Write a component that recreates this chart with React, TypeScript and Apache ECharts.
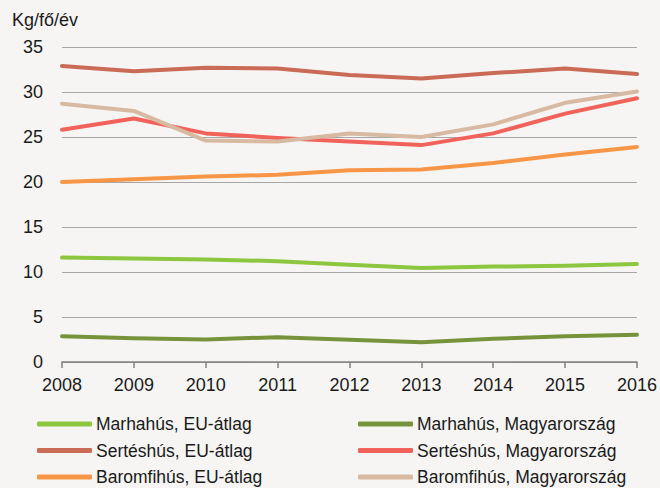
import React, { useEffect, useRef } from "react";
import * as echarts from "echarts";

const years = ["2008", "2009", "2010", "2011", "2012", "2013", "2014", "2015", "2016"];
const marhaEU = [11.6, 11.5, 11.4, 11.2, 10.8, 10.45, 10.6, 10.7, 10.9];
const marhaHU = [2.87, 2.65, 2.5, 2.76, 2.46, 2.2, 2.58, 2.87, 3.02];
const sertesEU = [32.9, 32.3, 32.7, 32.6, 31.9, 31.5, 32.1, 32.6, 32.0];
const sertesHU = [25.8, 27.05, 25.4, 24.9, 24.5, 24.1, 25.4, 27.6, 29.3];
const baromfiEU = [20.0, 20.3, 20.6, 20.8, 21.3, 21.4, 22.1, 23.05, 23.9];
const baromfiHU = [28.7, 27.9, 24.6, 24.5, 25.4, 25.0, 26.4, 28.8, 30.05];

const names = [
  "Marhahús, EU-átlag",
  "Marhahús, Magyarország",
  "Sertéshús, EU-átlag",
  "Sertéshús, Magyarország",
  "Baromfihús, EU-átlag",
  "Baromfihús, Magyarország",
];
const colors = ["#8dc63f", "#76933c", "#c96b55", "#f0625a", "#f79646", "#d8b9a1"];
const seriesData = [marhaEU, marhaHU, sertesEU, sertesHU, baromfiEU, baromfiHU];

export default function App() {
  const ref = useRef<HTMLDivElement>(null);
  useEffect(() => {
    if (!ref.current) return;
    const chart = echarts.init(ref.current, null, { renderer: "svg" });
    const font = "'Liberation Sans', Arial, sans-serif";
    const legendCommon = {
      orient: "vertical" as const,
      top: 415,
      itemWidth: 55,
      itemHeight: 5,
      itemGap: 8.5,
      padding: 0,
      icon: "roundRect",
      textStyle: { fontFamily: font, fontSize: 17.5, color: "#1a1a1a", padding: [0, 0, 0, -1] },
    };
    chart.setOption({
      animation: false,
      backgroundColor: "#f6f5f3",
      color: colors,
      title: {
        text: "Kg/fő/év",
        left: 12,
        top: 11,
        padding: 0,
        textStyle: { fontFamily: font, fontSize: 18, fontWeight: "normal", color: "#1a1a1a" },
      },
      grid: { left: 62, right: 20, top: 47, bottom: 126 },
      legend: [
        { ...legendCommon, left: 37, data: [names[0], names[2], names[4]] },
        { ...legendCommon, left: 358, data: [names[1], names[3], names[5]] },
      ],
      xAxis: {
        type: "category",
        data: years,
        boundaryGap: false,
        axisLine: { lineStyle: { color: "#808080", width: 1.5 } },
        axisTick: { length: 6, lineStyle: { color: "#808080", width: 1.5 } },
        axisLabel: { fontFamily: font, fontSize: 18, color: "#1a1a1a", margin: 14 },
      },
      yAxis: {
        type: "value",
        min: 0,
        max: 35,
        interval: 5,
        axisLine: { show: false },
        axisTick: { show: false },
        splitLine: { lineStyle: { color: "#a6a6a6", width: 1 } },
        axisLabel: { fontFamily: font, fontSize: 18, color: "#1a1a1a", margin: 19 },
      },
      series: seriesData.map((d, i) => ({
        name: names[i],
        type: "line",
        data: d,
        showSymbol: false,
        symbol: "none",
        lineStyle: { width: 4, color: colors[i], cap: "round", join: "round" },
        itemStyle: { color: colors[i] },
      })),
    });
    return () => chart.dispose();
  }, []);
  return <div ref={ref} style={{ width: 660, height: 488, position: "absolute", left: 0, top: 0 }} />;
}
